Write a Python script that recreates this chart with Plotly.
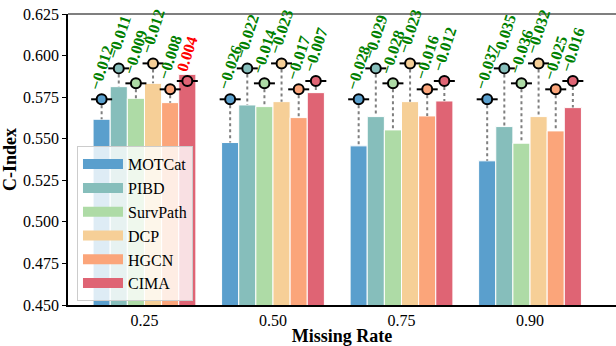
import plotly.graph_objects as go

# ---- data ----
rates = ["0.25", "0.50", "0.75", "0.90"]
methods = ["MOTCat", "PIBD", "SurvPath", "DCP", "HGCN", "CIMA"]
colors = ["#5a9fcd", "#86bebb", "#aedba6", "#f6cf97", "#fba57a", "#df6474"]
# C-Index with complete modalities (circle markers)
full_cindex = [0.5737, 0.5923, 0.5833, 0.5953, 0.5797, 0.5847]
# change relative to complete data, per missing rate (rows: methods)
delta_motcat = [-0.012, -0.026, -0.028, -0.037]
delta_pibd = [-0.011, -0.022, -0.029, -0.035]
delta_survpath = [-0.009, -0.014, -0.028, -0.036]
delta_dcp = [-0.012, -0.023, -0.023, -0.032]
delta_hgcn = [-0.008, -0.017, -0.016, -0.025]
delta_cima = [0.004, -0.007, -0.012, -0.016]
deltas = [delta_motcat, delta_pibd, delta_survpath, delta_dcp, delta_hgcn, delta_cima]

FONT = "Liberation Serif"
n = len(methods)
w = 0.8 / n

fig = go.Figure()
annotations = []
for k, m in enumerate(methods):
    off = (k - (n - 1) / 2) * w
    xs = [i + off for i in range(len(rates))]
    ys = [full_cindex[k] + d for d in deltas[k]]
    fig.add_trace(go.Bar(
        x=xs, y=ys, width=w, name=m, showlegend=False,
        marker=dict(color=colors[k], line=dict(color="white", width=1)),
    ))

for k, m in enumerate(methods):
    off = (k - (n - 1) / 2) * w
    xs = [i + off for i in range(len(rates))]
    ys = [full_cindex[k] + d for d in deltas[k]]
    lx, ly = [], []
    for x, y in zip(xs, ys):
        lx += [x, x, None]
        ly += [full_cindex[k], min(y, full_cindex[k]), None]
    fig.add_trace(go.Scatter(
        x=lx, y=ly, mode="lines", showlegend=False, hoverinfo="skip",
        line=dict(color="#7f7f7f", width=2, dash="dot"),
    ))
    fig.add_trace(go.Scatter(
        x=xs, y=[full_cindex[k]] * len(xs), mode="markers", showlegend=False,
        marker=dict(symbol="line-ew", size=15, line=dict(color="black", width=2)),
    ))
    fig.add_trace(go.Scatter(
        x=xs, y=[full_cindex[k]] * len(xs), mode="markers", showlegend=False,
        marker=dict(symbol="circle", size=10, color=colors[k],
                    line=dict(color="black", width=2)),
    ))
    for x, d in zip(xs, deltas[k]):
        txt = ("−%.3f" % abs(d)) if d < 0 else ("%.3f" % d)
        annotations.append(dict(
            x=x, y=full_cindex[k], xref="x", yref="y", text="<b>%s</b>" % txt,
            showarrow=False, textangle=-72, xanchor="center", yanchor="bottom",
            yshift=5, font=dict(family=FONT, size=16, color="green" if d < 0 else "red"),
        ))

# legend-only entries (wide patches)
for k, m in enumerate(methods):
    fig.add_trace(go.Scatter(
        x=[None], y=[None], mode="lines", name=m,
        line=dict(color=colors[k], width=12),
    ))

fig.add_shape(type="line", xref="paper", yref="paper", x0=0, x1=1, y0=1, y1=1,
              line=dict(color="#555555", width=1.5))

fig.update_layout(
    width=616, height=346,
    margin=dict(l=68, r=0, t=14, b=41),
    plot_bgcolor="white", paper_bgcolor="white",
    barmode="overlay",
    font=dict(family=FONT, size=16, color="black"),
    annotations=annotations,
    showlegend=True,
    legend=dict(x=0.0164, y=0.013, xanchor="left", yanchor="bottom",
                bgcolor="rgba(255,255,255,0.8)", bordercolor="#cccccc", borderwidth=1,
                itemwidth=40, font=dict(family=FONT, size=16)),
    xaxis=dict(range=[-0.595, 3.669], tickvals=list(range(len(rates))), ticktext=rates,
               showline=True, linecolor="black", linewidth=1.5, ticks="",
               showgrid=False, zeroline=False,
               title=dict(text="<b>Missing Rate</b>", font=dict(size=18), standoff=4)),
    yaxis=dict(range=[0.45, 0.625], dtick=0.025, tickformat=".3f",
               showline=True, linecolor="black", linewidth=1.5, ticks="outside",
               ticklen=4, tickcolor="black", showgrid=False, zeroline=False,
               title=dict(text="<b>C-Index</b>", font=dict(size=18), standoff=4)),
)

fig.write_html("out.html", config={"displayModeBar": False},
               post_script="document.body.style.margin='0px';")
